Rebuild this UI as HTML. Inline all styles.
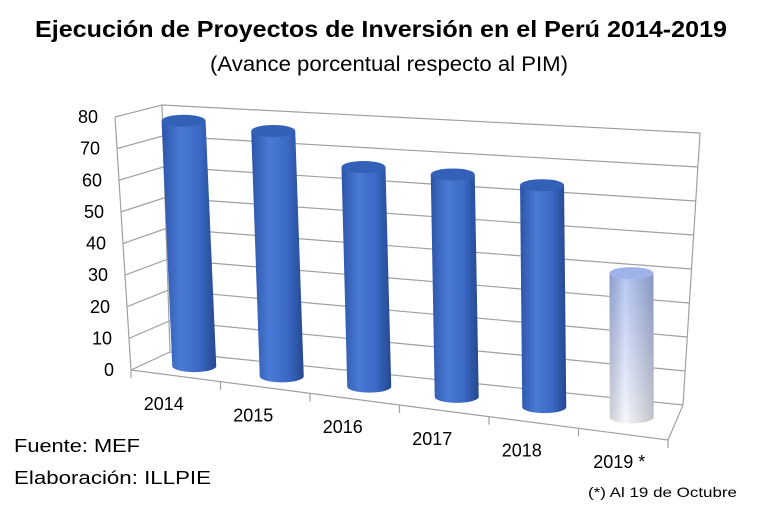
<!DOCTYPE html>
<html><head><meta charset="utf-8"><style>
body{margin:0;background:#fff;}
svg text{font-family:"Liberation Sans",sans-serif;}
</style></head><body>
<svg id="c" width="782" height="512" viewBox="0 0 782 512" xmlns="http://www.w3.org/2000/svg">
<defs>
<linearGradient id="gb" x1="0" x2="1" y1="0" y2="0">
<stop offset="0" stop-color="#2c55a8"/><stop offset="0.35" stop-color="#4a7ad6"/><stop offset="0.7" stop-color="#3a68c4"/><stop offset="1" stop-color="#25488f"/>
</linearGradient>
<linearGradient id="gl" x1="0" x2="0" y1="0" y2="1">
<stop offset="0" stop-color="#a6b9f0"/><stop offset="1" stop-color="#f4f6fc"/>
</linearGradient>
<linearGradient id="glh" x1="0" x2="1" y1="0" y2="0">
<stop offset="0" stop-color="#000" stop-opacity="0.15"/><stop offset="0.35" stop-color="#fff" stop-opacity="0.2"/><stop offset="1" stop-color="#000" stop-opacity="0.2"/>
</linearGradient>
</defs>
<text x="35" y="37" textLength="692" lengthAdjust="spacingAndGlyphs" font-size="23" font-weight="bold" fill="#000">Ejecución de Proyectos de Inversión  en el Perú 2014-2019</text>
<text x="210" y="71" textLength="358" lengthAdjust="spacingAndGlyphs" font-size="21" fill="#000">(Avance porcentual respecto al PIM)</text>
<g id="grid"></g>
<g id="bars"></g>
<g id="labels"></g>
<text x="14" y="452" textLength="126" lengthAdjust="spacingAndGlyphs" font-size="18" fill="#000">Fuente: MEF</text>
<text x="14" y="484" textLength="197" lengthAdjust="spacingAndGlyphs" font-size="18" fill="#000">Elaboración: ILLPIE</text>
<text x="588" y="497" textLength="149" lengthAdjust="spacingAndGlyphs" font-size="14" fill="#000">(*) Al 19 de Octubre</text>
</svg>
<script>
const categories=["2014","2015","2016","2017","2018","2019 *"];
const values=[78,77,68,68,67,43];
const yTicks=[0,10,20,30,40,50,60,70,80];
const yMax=80;
const NS="http://www.w3.org/2000/svg";
const FLB=[131,370],FRB=[668,440],BLB=[170,352],BRB=[683,405];
const FLT=[115,117],FRT=[652,172],BLT=[162,105],BRT=[700,133];
function L(a,b,t){return [a[0]+(b[0]-a[0])*t,a[1]+(b[1]-a[1])*t];}
function P(u,v,d){const bot=L(L(FLB,FRB,u),L(BLB,BRB,u),d);const top=L(L(FLT,FRT,u),L(BLT,BRT,u),d);return L(bot,top,v/yMax);}
function mk(tag,attrs,parent){const e=document.createElementNS(NS,tag);for(const k in attrs)e.setAttribute(k,attrs[k]);parent.appendChild(e);return e;}
const grid=document.getElementById('grid'),bars=document.getElementById('bars'),labels=document.getElementById('labels');
yTicks.forEach(v=>{
 const a=P(0,v,0),b=P(0,v,1),c=P(1,v,1);
 const pl=mk('polyline',{points:`${a} ${b} ${c}`,fill:'none',stroke:'#a0a0a0','stroke-width':1.2},grid);
 
 
 const t=mk('text',{x:a[0]-17,y:a[1]+6,'text-anchor':'end','font-size':18,fill:'#000'},labels);
 t.textContent=v;
 
 
});
[[P(0,0,0),P(0,yMax,0)],[P(0,0,1),P(0,yMax,1)],[P(1,0,1),P(1,yMax,1)],[P(0,0,0),P(1,0,0)],[P(1,0,0),P(1,0,1)]].forEach((s,i)=>{
 const l=mk('line',{x1:s[0][0],y1:s[0][1],x2:s[1][0],y2:s[1][1],stroke:'#a0a0a0','stroke-width':1.2},grid);
 
 
});
for(let i=0;i<=categories.length;i++){
 const p=P(i/categories.length,0,0);
 const l=mk('line',{x1:p[0],y1:p[1],x2:p[0],y2:p[1]+8,stroke:'#a0a0a0','stroke-width':1.2},grid);
 
 
}
categories.forEach((c,i)=>{
 const u=(i+0.5)/categories.length;
 const B=P(u,0,0.5),T=P(u,values[i],0.5);
 const rx=22,ry=6;
 const light=i===categories.length-1;
 const g=mk('g',{},bars);
 
 
 mk('path',{d:`M${T[0]-rx},${T[1]} L${B[0]-rx},${B[1]} A${rx},${ry} 0 0 0 ${B[0]+rx},${B[1]} L${T[0]+rx},${T[1]} Z`,fill:light?'url(#gl)':'url(#gb)'},g);
 if(light) mk('path',{d:`M${T[0]-rx},${T[1]} L${B[0]-rx},${B[1]} A${rx},${ry} 0 0 0 ${B[0]+rx},${B[1]} L${T[0]+rx},${T[1]} Z`,fill:'url(#glh)'},g);
 mk('ellipse',{cx:T[0],cy:T[1],rx:rx,ry:ry,fill:light?'#9fb3ea':'#3461b8'},g);
 const lp=P(u,0,0);
 const t=mk('text',{x:lp[0]-(i===5?4:12),y:lp[1]+34,'text-anchor':'middle','font-size':18,fill:'#000'},labels);
 t.textContent=c;
 
 
});
</script>
</body></html>
